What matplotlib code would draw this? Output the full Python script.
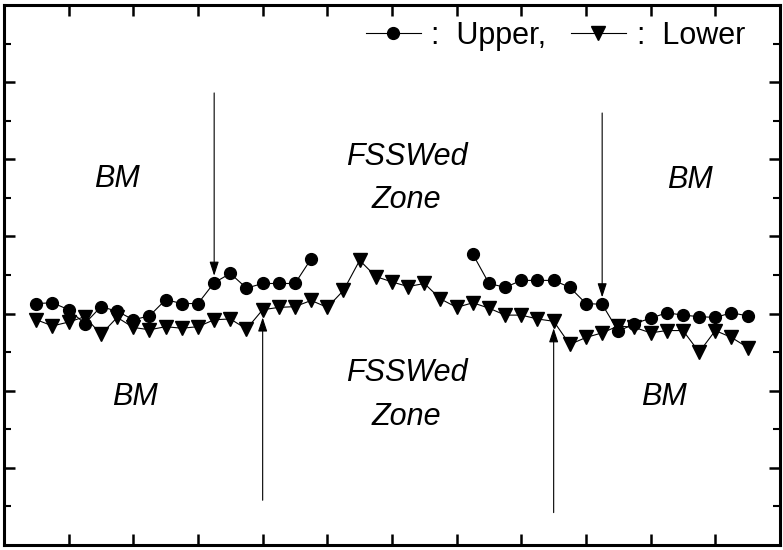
import numpy as np
import matplotlib
matplotlib.use("Agg")
import matplotlib.pyplot as plt
from matplotlib.ticker import MultipleLocator, NullFormatter

plt.rcParams['font.family'] = ['Liberation Sans', 'DejaVu Sans']

# upper surface: two measured segments
x_upper_1 = np.arange(0.5, 4.76, 0.25)
upper_1 = [0.13, 0.14, 0.05, -0.13, 0.09, 0.03, -0.08, -0.03, 0.18, 0.13,
           0.13, 0.40, 0.52, 0.33, 0.39, 0.39, 0.39, 0.71]
x_upper_2 = np.arange(7.25, 11.51, 0.25)
upper_2 = [0.77, 0.39, 0.34, 0.43, 0.43, 0.43, 0.34, 0.13, 0.12, -0.23,
           -0.13, -0.06, 0.01, -0.02, -0.04, -0.05, 0.01, -0.03]

# lower surface
x_lower = np.arange(0.5, 11.51, 0.25)
lower = [-0.08, -0.16, -0.11, -0.04, -0.27, -0.05, -0.18, -0.21, -0.17, -0.19,
         -0.17, -0.08, -0.07, -0.20, 0.05, 0.08, 0.09, 0.17, 0.08, 0.30,
         0.69, 0.48, 0.41, 0.35, 0.39, 0.19, 0.08, 0.14, 0.07, -0.02,
         -0.02, -0.07, -0.10, -0.40, -0.31, -0.25, -0.16, -0.18, -0.25, -0.22,
         -0.22, -0.50, -0.22, -0.31, -0.44]

# arrows: (x, start y, tip y)
arrows = [(3.25, 2.86, 0.49), (4.0, -2.42, -0.05),
          (9.25, 2.60, 0.21), (8.5, -2.58, -0.19)]

# zone labels: (x, y, text)
labels = [(1.75, 1.74, 'BM'), (6.23, 1.75, 'FSSWed\nZone'), (10.6, 1.73, 'BM'),
          (2.03, -1.08, 'BM'), (6.23, -1.06, 'FSSWed\nZone'), (10.2, -1.08, 'BM')]

fig = plt.figure(figsize=(7.83, 5.5), dpi=100)
ax = fig.add_axes([4 / 783, 5 / 550, 776 / 783, 540 / 550])

ax.plot(x_upper_1, upper_1, '-o', color='k', lw=0.8, ms=8.5, label=':  Upper,')
ax.plot(x_upper_2, upper_2, '-o', color='k', lw=0.8, ms=8.5)
ax.plot(x_lower, lower, '-v', color='k', lw=0.8, ms=10, label=':  Lower')

for x, y0, y1 in arrows:
    ax.annotate('', xy=(x, y1), xytext=(x, y0),
                arrowprops=dict(arrowstyle='-|>,head_length=0.85,head_width=0.28',
                                color='k', lw=0.8, shrinkA=0, shrinkB=0))

for x, y, t in labels:
    ax.text(x, y, t, fontsize=22, style='italic', ha='center', va='center',
            linespacing=1.6)

ax.set_xlim(0, 12)
ax.set_ylim(-3, 4)
ax.xaxis.set_major_locator(MultipleLocator(1))
ax.yaxis.set_major_locator(MultipleLocator(1))
ax.yaxis.set_minor_locator(MultipleLocator(0.5))
ax.xaxis.set_major_formatter(NullFormatter())
ax.yaxis.set_major_formatter(NullFormatter())
ax.tick_params(which='major', direction='in', length=8, width=1.8,
               top=True, right=True)
ax.tick_params(which='minor', direction='in', length=5, width=1.5,
               left=True, right=True)
for s in ax.spines.values():
    s.set_linewidth(2.2)

ax.legend(loc='center right', bbox_to_anchor=((745 - 4) / 776, (545 - 36) / 540),
          ncol=2, frameon=False, fontsize=22, numpoints=1, handlelength=1.8,
          handletextpad=0.35, columnspacing=0.8, borderpad=0, borderaxespad=0)

plt.savefig("out.png", dpi=100)
